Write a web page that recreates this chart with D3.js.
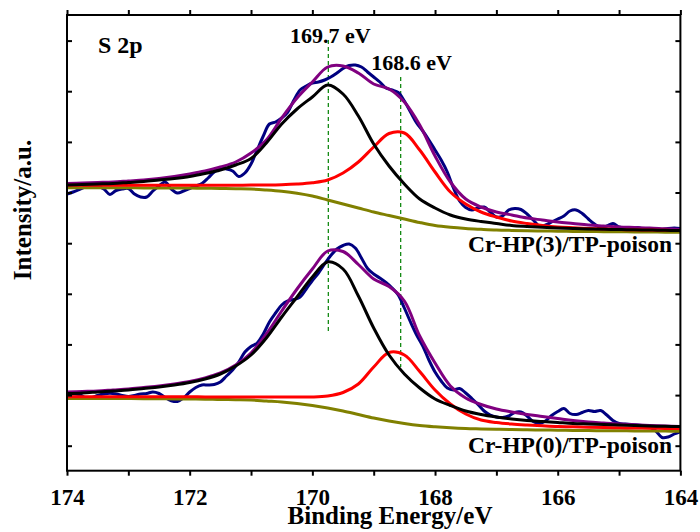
<!DOCTYPE html>
<html>
<head>
<meta charset="utf-8">
<script src="https://d3js.org/d3.v7.min.js"></script>
<style>
    body { margin: 0; background: #fff; }
    svg text { font-family: "Liberation Serif", "Times New Roman", serif; font-weight: bold; fill: #000; }
</style>
</head>
<body>
<svg width="700" height="532"></svg>
<script>
    // binding energy grid of the fitted curves (eV)
    const fitEnergy = [174, 173.75, 173.5, 173.25, 173, 172.75, 172.5, 172.25, 172, 171.75,
        171.5, 171.25, 171, 170.75, 170.5, 170.25, 170, 169.75, 169.5, 169.25,
        169, 168.75, 168.5, 168.25, 168, 167.75, 167.5, 167.25, 167, 166.75,
        166.5, 166.25, 166, 165.75, 165.5, 165.25, 165, 164.75, 164.5, 164.25, 164];

    // binding energy grid of the measured spectra (eV)
    const rawEnergy = [174.0, 173.9, 173.8, 173.7, 173.6, 173.5, 173.4, 173.3, 173.2, 173.1,
        173.0, 172.9, 172.8, 172.7, 172.6, 172.5, 172.4, 172.3, 172.2, 172.1,
        172.0, 171.9, 171.8, 171.7, 171.6, 171.5, 171.4, 171.3, 171.2, 171.1,
        171.0, 170.9, 170.8, 170.7, 170.6, 170.5, 170.4, 170.3, 170.2, 170.1,
        170.0, 169.9, 169.8, 169.7, 169.6, 169.5, 169.4, 169.3, 169.2, 169.1,
        169.0, 168.9, 168.8, 168.7, 168.6, 168.5, 168.4, 168.3, 168.2, 168.1,
        168.0, 167.9, 167.8, 167.7, 167.6, 167.5, 167.4, 167.3, 167.2, 167.1,
        167.0, 166.9, 166.8, 166.7, 166.6, 166.5, 166.4, 166.3, 166.2, 166.1,
        166.0, 165.9, 165.8, 165.7, 165.6, 165.5, 165.4, 165.3, 165.2, 165.1,
        165.0, 164.9, 164.8, 164.7, 164.6, 164.5, 164.4, 164.3, 164.2, 164.1, 164.0];

    // Cr-HP(3)/TP-poison (upper, offset)
    const upperRaw = [306, 308, 310.5, 313, 313.5, 313.5, 311, 305.5, 309.5, 311,
        311.5, 306, 303, 303, 309, 314, 318, 311, 307, 309,
        311.5, 314, 316.5, 322, 328, 331.5, 331, 329, 323.5, 327,
        336, 350, 364, 376, 378, 382, 388, 400, 410, 414,
        417, 418, 420, 423, 427, 431.5, 434.5, 435, 433, 428,
        423, 418, 412, 410, 407.5, 399, 388, 377, 369, 360,
        350, 340, 328, 312, 299, 292.5, 290, 292, 293, 288,
        283, 284, 290, 291.5, 290.5, 286, 280, 274, 275, 278,
        281, 284, 289, 290, 286.5, 281, 276, 272.5, 274, 276.5,
        273, 271.5, 271.5, 272.5, 271, 270, 270, 270.5, 271.5, 272, 271.5];
    const upperBackground = [312.3, 312.3, 312.3, 312.2, 312.2, 312.1, 312, 312, 311.9, 311.8,
        311.6, 311.3, 311, 310, 308.7, 306.8, 304, 300, 296, 292,
        288, 284.5, 281, 277.5, 274.5, 272.7, 271.5, 270.7, 270, 269.6,
        269.3, 269, 268.8, 268.6, 268.5, 268.3, 268.2, 268.1, 268, 267.8, 267.7];
    const upperPeakA = [315, 315.5, 316, 316.5, 317.5, 318.5, 320, 321.5, 323.5, 326.5,
        330, 335, 341.5, 357, 376, 391, 403, 415, 406, 384,
        356, 334, 316, 301, 292, 285, 281, 278.5, 276.5, 274.5,
        273.5, 272.7, 272, 271.5, 271, 270.7, 270.5, 270.2, 270, 269.7, 269.5];
    const upperPeakB = [314.8, 314.8, 314.8, 314.8, 314.8, 314.8, 314.8, 314.8, 314.8, 314.8,
        314.8, 314.8, 314.9, 315, 315.3, 316, 317.3, 320, 327, 338,
        353, 366.5, 367, 350, 328, 308, 296, 288, 283, 279,
        276.5, 274.5, 273, 272.2, 271.5, 271, 270.5, 270.2, 270, 269.7, 269.5];
    const upperEnvelope = [316.5, 317, 317.5, 318, 319, 320, 321.5, 323.5, 326, 329,
        333, 338, 347, 360, 382, 402, 418, 433, 434, 427,
        416, 411, 398, 375, 344, 318, 301, 293, 288, 285,
        282, 280, 278, 276.5, 275, 274, 273, 272.5, 272, 271.2, 270.5];

    // Cr-HP(0)/TP-poison (lower)
    const lowerRaw = [105, 106, 105.5, 102.5, 102.5, 104.5, 106, 106.7, 106, 104.5,
        103.5, 104.5, 106, 106.5, 108, 106.5, 102.5, 99.3, 98.5, 102,
        108, 112.5, 115, 115, 115.5, 118, 124, 130, 138, 148,
        153.5, 157, 166, 178, 187, 195, 199, 200.5, 203, 211,
        219.5, 227, 236, 244.5, 251, 254.5, 256, 252, 242, 231.5,
        226, 222, 217.5, 212, 205, 192, 178, 165, 154, 140,
        128, 119, 112, 110, 111.5, 107, 101.5, 95.5, 89, 85,
        83, 82.5, 84, 87.5, 88, 84, 78.5, 76.5, 79, 84.5,
        88.5, 91.5, 86.5, 85.5, 87.5, 89.5, 88.5, 89.5, 85, 79.5,
        76.5, 76, 75.5, 75, 74.5, 73, 69, 62.5, 63, 66, 68.5];
    const lowerBackground = [101.5, 101.5, 101.5, 101.5, 101.5, 101.3, 101.2, 101.1, 101, 100.8,
        100.5, 100.3, 100, 99, 98, 96.5, 94.5, 92, 89, 85.5,
        82, 79, 76.5, 74.5, 73.2, 72.2, 71.5, 71.1, 70.7, 70.5,
        70.2, 70, 69.8, 69.6, 69.4, 69.3, 69.2, 69.1, 69, 68.9, 68.8];
    const lowerPeakA = [106.5, 107, 108, 109, 110, 111.5, 113, 115, 117.5, 121,
        126, 134, 145, 162, 183, 203, 223, 238, 231, 204,
        172, 145, 126, 112, 101, 94.5, 89, 85.5, 83, 81,
        79.5, 78.5, 77.5, 76.5, 76, 75.5, 75, 74.5, 74, 73.7, 73.5];
    const lowerPeakB = [103.2, 103.2, 103.2, 103.2, 103.2, 103.2, 103.2, 103.2, 103.2, 103.1,
        103.1, 103.1, 103.1, 103, 103, 103, 103, 104, 107.5, 116,
        133, 147.5, 145, 128.5, 110, 96, 86, 80, 77.5, 76,
        75, 74.2, 73.5, 73.2, 72.8, 72.5, 72.2, 72, 71.8, 71.6, 71.5];
    const lowerEnvelope = [108, 108.5, 109, 110, 111, 112.5, 114, 116, 118.5, 122,
        127, 135, 147, 166, 189, 211, 231, 249, 248.5, 235.5,
        221, 213.5, 199, 164, 137, 114, 102, 95.5, 91, 88,
        85.5, 83.5, 81.5, 79.5, 78, 77, 76, 75.2, 74.5, 74, 73.5];

    // peak position markers
    const markerEnergy = [169.74, 168.56];
    const markerTop = [460, 423];
    const markerBottom = [168, 133];
    const markerLabels = ['169.7 eV', '168.6 eV'];

    const xMajorTicks = [174, 172, 170, 168, 166, 164];
    const xAllTicks = [174, 173, 172, 171, 170, 169, 168, 167, 166, 165, 164];
    const yTicks = [54.3, 104.9, 155.6, 206.2, 256.8, 307.5, 358.1, 408.8, 459.4];

    const plotLeft = 67, plotRight = 680.4, plotTop = 15, plotBottom = 470.7;
    const svg = d3.select('svg');

    var x = d3.scaleLinear().domain([174, 164]).range([plotLeft, plotRight]);
    var y = d3.scaleLinear().domain([29.3, 485]).range([plotBottom, plotTop]);

    function pairs(es, vs) {
        return es.map(function (e, i) { return [e, vs[i]]; });
    }

    var line = d3.line()
        .x(function (d) { return x(d[0]); })
        .y(function (d) { return y(d[1]); })
        .curve(d3.curveCatmullRom);

    var plot = svg.append('g');

    // dashed peak markers
    markerEnergy.forEach(function (e, i) {
        plot.append('line')
            .attr('x1', x(e)).attr('x2', x(e))
            .attr('y1', y(markerTop[i])).attr('y2', y(markerBottom[i]))
            .attr('stroke', '#008000').attr('stroke-width', 1.2)
            .attr('stroke-dasharray', '4,3');
    });

    var series = [
        [rawEnergy, upperRaw, '#000080'], [rawEnergy, lowerRaw, '#000080'],
        [fitEnergy, upperEnvelope, '#800080'], [fitEnergy, lowerEnvelope, '#800080'],
        [fitEnergy, upperBackground, '#808000'], [fitEnergy, lowerBackground, '#808000'],
        [fitEnergy, upperPeakB, '#ff0000'], [fitEnergy, lowerPeakB, '#ff0000'],
        [fitEnergy, upperPeakA, '#000000'], [fitEnergy, lowerPeakA, '#000000']
    ];
    series.forEach(function (s) {
        plot.append('path')
            .datum(pairs(s[0], s[1]))
            .attr('d', line)
            .attr('fill', 'none')
            .attr('stroke', s[2])
            .attr('stroke-width', 3)
            .attr('stroke-linejoin', 'round');
    });

    // axes (ticks only), frame drawn after
    var bottomAxis = svg.append('g')
        .attr('transform', 'translate(0,' + plotBottom + ')')
        .call(d3.axisBottom(x).tickValues(xAllTicks).tickSize(5).tickSizeOuter(0)
            .tickPadding(13)
            .tickFormat(function (d) { return xMajorTicks.indexOf(d) >= 0 ? d : ''; }));
    svg.append('g')
        .attr('transform', 'translate(0,' + plotTop + ')')
        .call(d3.axisTop(x).tickValues(xAllTicks).tickSize(5).tickSizeOuter(0).tickFormat(''));
    svg.append('g')
        .attr('transform', 'translate(' + plotLeft + ',0)')
        .call(d3.axisLeft(y).tickValues(yTicks).tickSize(-5).tickSizeOuter(0).tickFormat(''));
    svg.append('g')
        .attr('transform', 'translate(' + plotRight + ',0)')
        .call(d3.axisRight(y).tickValues(yTicks).tickSize(-5).tickSizeOuter(0).tickFormat(''));

    svg.selectAll('.domain').remove();
    svg.selectAll('.tick line').attr('stroke', '#000').attr('stroke-width', 2);
    bottomAxis.selectAll('text')
        .style('font-size', '23px')
        .style('font-family', '"Liberation Serif", serif')
        .style('font-weight', 'bold');

    svg.append('rect')
        .attr('x', plotLeft).attr('y', plotTop)
        .attr('width', plotRight - plotLeft).attr('height', plotBottom - plotTop)
        .attr('fill', 'none').attr('stroke', '#000').attr('stroke-width', 2);

    // texts
    svg.append('text')
        .attr('x', 98).attr('y', 52.5)
        .style('font-size', '24px')
        .text('S 2p');

    var markerDx = [2, 11];
    var markerBaseline = [43, 70];
    markerLabels.forEach(function (t, i) {
        svg.append('text')
            .attr('x', x(markerEnergy[i]) + markerDx[i])
            .attr('y', markerBaseline[i])
            .attr('text-anchor', 'middle')
            .style('font-size', '22px')
            .text(t);
    });

    svg.append('text')
        .attr('x', 672).attr('y', 252)
        .attr('text-anchor', 'end')
        .style('font-size', '23.5px')
        .text('Cr-HP(3)/TP-poison');
    svg.append('text')
        .attr('x', 672).attr('y', 453)
        .attr('text-anchor', 'end')
        .style('font-size', '23.5px')
        .text('Cr-HP(0)/TP-poison');

    svg.append('text')
        .attr('x', 390).attr('y', 524)
        .attr('text-anchor', 'middle')
        .style('font-size', '25px')
        .text('Binding Energy/eV');

    svg.append('text')
        .attr('transform', 'translate(31,210) rotate(-90)')
        .attr('text-anchor', 'middle')
        .style('font-size', '25px')
        .text('Intensity/a.u.');
</script>
</body>
</html>
